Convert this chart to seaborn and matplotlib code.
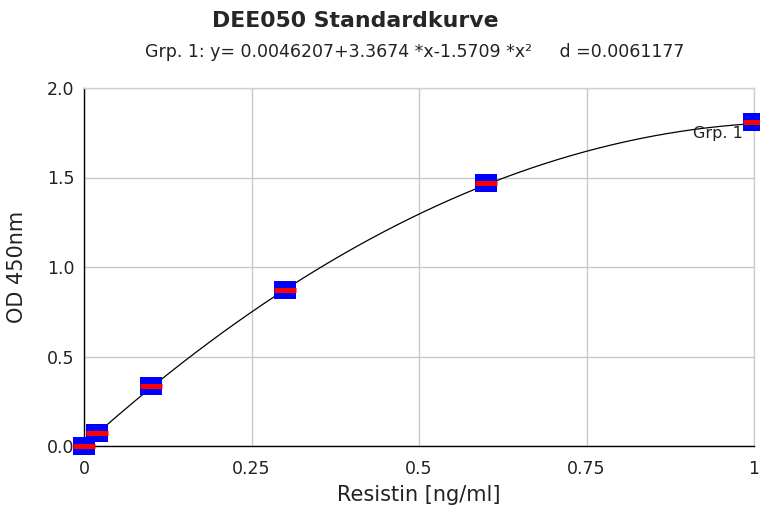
import numpy as np
import pandas as pd
import matplotlib
matplotlib.use("Agg")
import matplotlib.pyplot as plt
from matplotlib.path import Path
import seaborn as sns

# DATA

conc = [0.0, 0.02, 0.1, 0.3, 0.6, 1.0]
od = [0.0, 0.07, 0.335, 0.87, 1.47, 1.81]
fit_coef = [0.0046207, 3.3674, -1.5709]   # y = a + b*x + c*x^2 (from subtitle)

x_ticks = [0, 0.25, 0.5, 0.75, 1]
x_ticklabels = ["0", "0.25", "0.5", "0.75", "1"]
y_ticks = [0.0, 0.5, 1.0, 1.5, 2.0]
y_ticklabels = ["0.0", "0.5", "1.0", "1.5", "2.0"]

points = pd.DataFrame({"conc": conc, "od": od})
xs = np.linspace(0, 1, 200)
curve = pd.DataFrame({"conc": xs, "od": fit_coef[0] + fit_coef[1] * xs + fit_coef[2] * xs ** 2})

# STYLE

sns.set_style("white")
plt.rcParams["font.family"] = ["DejaVu Sans"]

fig = plt.figure(figsize=(7.6, 5.08), dpi=100)
ax = fig.add_axes([84 / 760, 62 / 508, 670 / 760, 358 / 508])

# wide rectangle marker (about 22 x 17 px)
rect = Path([(-1, -0.78), (1, -0.78), (1, 0.78), (-1, 0.78), (-1, -0.78)],
            [Path.MOVETO, Path.LINETO, Path.LINETO, Path.LINETO, Path.CLOSEPOLY])

ax.grid(True, color="#c8c8c8", linewidth=1)
ax.set_axisbelow(True)

sns.lineplot(data=curve, x="conc", y="od", color="black", linewidth=0.9, ax=ax)
sns.scatterplot(data=points, x="conc", y="od", marker=rect, s=255, color="#0000ff",
                edgecolor="#0000ff", linewidth=0, ax=ax, clip_on=False, zorder=3)
ax.scatter(points["conc"], points["od"], marker="_", s=255, color="red",
           linewidths=3.6, clip_on=False, zorder=4)

ax.set_xlim(0, 1)
ax.set_ylim(0, 2.0)
ax.set_xticks(x_ticks)
ax.set_xticklabels(x_ticklabels)
ax.set_yticks(y_ticks)
ax.set_yticklabels(y_ticklabels)
ax.tick_params(axis="x", length=0, labelsize=12.5, pad=10, colors="#222222")
ax.tick_params(axis="y", length=0, labelsize=12.5, pad=7, colors="#222222")

for side in ["left", "bottom"]:
    ax.spines[side].set_color("black")
    ax.spines[side].set_linewidth(1)
for side in ["top", "right"]:
    ax.spines[side].set_color("#d0d0d0")
    ax.spines[side].set_linewidth(1)

ax.set_xlabel("Resistin [ng/ml]", fontsize=15, color="#222222", labelpad=5)
ax.set_ylabel("OD 450nm", fontsize=15, color="#222222", labelpad=14)

ax.text(0.946, 1.745, "Grp. 1", fontsize=11.5, color="#222222", ha="center", va="center")

fig.text(0.467, 0.958, "DEE050 Standardkurve", fontsize=15.8, fontweight="bold",
         ha="center", va="center")
fig.text(145 / 760, 0.898, "Grp. 1: y= 0.0046207+3.3674 *x-1.5709 *x\u00b2     d =0.0061177",
         fontsize=12.5, color="#222222", ha="left", va="center")

fig.savefig("out.png", dpi=100)
